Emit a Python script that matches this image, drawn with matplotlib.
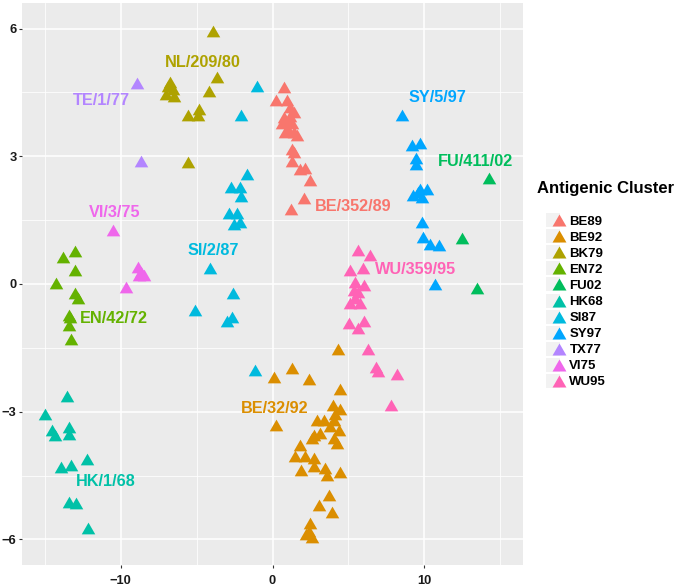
#!/usr/bin/env python3
"""
Antigenic map of H3N2 clusters, ggplot-like scatter with triangles
"""

import numpy as np
import matplotlib
matplotlib.use('Agg')
import matplotlib.pyplot as plt
from matplotlib.lines import Line2D
from matplotlib.legend_handler import HandlerTuple

plt.rcParams['font.family'] = ['Liberation Sans', 'DejaVu Sans']

clusters = ['BE89', 'BE92', 'BK79', 'EN72', 'FU02', 'HK68',
            'SI87', 'SY97', 'TX77', 'VI75', 'WU95']
colors = ['#F8766D', '#DB8E00', '#AEA200', '#64B200', '#00BD5C', '#00C1A7',
          '#00BADE', '#00A6FF', '#B385FF', '#EF67EB', '#FF63B6']

# points per cluster, (x, y) in map units
be89 = [(0.74, 4.62), (0.24, 4.31), (0.96, 4.33), (1.18, 4.16), (1.40, 4.04),
        (0.74, 3.92), (1.07, 3.84), (0.64, 3.77), (1.29, 3.77), (0.85, 3.57),
        (1.40, 3.57), (1.62, 3.49), (1.29, 3.18), (1.40, 3.10), (1.29, 2.89),
        (1.84, 2.71), (2.17, 2.73), (2.49, 2.44), (2.06, 2.01), (1.25, 1.75),
        (1.00, 3.65), (1.15, 3.95)]
be92 = [(4.31, -1.53), (1.29, -1.98), (0.09, -2.19), (2.43, -2.22), (4.42, -2.47),
        (0.24, -3.32), (3.98, -2.84), (4.42, -2.93), (2.93, -3.19), (3.37, -3.19),
        (4.02, -3.19), (3.81, -3.34), (4.35, -3.42), (2.71, -3.54), (3.15, -3.50),
        (4.02, -3.62), (4.24, -3.73), (2.60, -3.62), (1.84, -3.77), (1.51, -4.05),
        (2.17, -4.05), (2.71, -4.08), (2.71, -4.28), (3.48, -4.32), (3.59, -4.48),
        (1.88, -4.38), (4.42, -4.41), (3.69, -4.96), (3.04, -5.20), (3.92, -5.35),
        (2.45, -5.61), (2.23, -5.88), (2.60, -5.95), (2.38, -5.80), (4.10, -3.05)]
bk79 = [(-3.89, 5.95), (-3.67, 4.87), (-6.74, 4.74), (-6.58, 4.59), (-7.02, 4.47),
        (-6.48, 4.41), (-4.18, 4.53), (-5.56, 3.98), (-4.84, 4.12), (-4.94, 3.96),
        (-5.56, 2.87), (-6.90, 4.65)]
en72 = [(-13.80, 0.64), (-12.99, 0.78), (-12.99, 0.34), (-14.28, 0.02), (-13.04, -0.20),
        (-12.81, -0.34), (-13.41, -0.73), (-13.36, -0.78), (-13.41, -0.96), (-13.25, -1.30)]
fu02 = [(14.26, 2.50), (12.45, 1.09), (13.47, -0.10)]
hk68 = [(-13.54, -2.62), (-14.96, -3.05), (-14.50, -3.42), (-14.35, -3.55), (-13.43, -3.36),
        (-13.41, -3.52), (-13.95, -4.30), (-13.25, -4.26), (-12.22, -4.12), (-13.41, -5.13),
        (-12.93, -5.14), (-12.12, -5.73)]
si87 = [(-1.71, 2.58), (-2.71, 2.27), (-2.15, 2.27), (-2.05, 2.06), (-2.87, 1.66),
        (-2.32, 1.67), (-2.15, 1.46), (-2.54, 1.42), (-4.11, 0.37), (-2.58, -0.22),
        (-5.12, -0.61), (-2.64, -0.77), (-3.02, -0.88), (-2.05, 3.96), (-1.05, 4.66),
        (-1.18, -2.03)]
sy97 = [(8.51, 3.96), (9.17, 3.26), (9.71, 3.31), (9.45, 2.95), (9.45, 2.83),
        (9.27, 2.09), (9.60, 2.16), (9.82, 2.05), (10.15, 2.24), (9.71, 2.24),
        (9.82, 1.46), (9.93, 1.11), (10.37, 0.94), (10.98, 0.91), (10.70, -0.01)]
tx77 = [(-8.92, 4.72), (-8.66, 2.89)]
vi75 = [(-10.52, 1.27), (-8.88, 0.41), (-8.66, 0.29), (-8.45, 0.21), (-8.77, 0.21),
        (-9.65, -0.06)]
wu95 = [(5.66, 0.80), (6.39, 0.68), (5.12, 0.33), (5.95, 0.37), (5.45, 0.05),
        (6.00, -0.02), (5.34, -0.14), (5.66, -0.18), (5.12, -0.45), (5.77, -0.45),
        (5.45, -0.34), (5.07, -0.92), (5.66, -1.04), (6.00, -0.87), (6.28, -1.52),
        (6.82, -1.94), (6.98, -2.05), (8.18, -2.12), (7.79, -2.84)]

points = [be89, be92, bk79, en72, fu02, hk68, si87, sy97, tx77, vi75, wu95]

# strain labels: (text, x, y, cluster)
label_text = ['NL/209/80', 'TE/1/77', 'VI/3/75', 'SI/2/87', 'EN/42/72', 'HK/1/68',
              'BE/32/92', 'BE/352/89', 'SY/5/97', 'FU/411/02', 'WU/359/95']
label_x = [-4.61, -11.29, -10.41, -3.92, -10.48, -11.0, 0.13, 5.34, 10.85, 13.39, 9.43]
label_y = [5.21, 4.31, 1.68, 0.78, -0.82, -4.63, -2.93, 1.83, 4.38, 2.87, 0.33]
label_cluster = ['BK79', 'TX77', 'VI75', 'SI87', 'EN72', 'HK68',
                 'BE92', 'BE89', 'SY97', 'FU02', 'WU95']

# equilateral triangle marker
tri = [(-1, -0.866), (1, -0.866), (0, 0.866), (-1, -0.866)]

fig = plt.figure(figsize=(6.75, 5.88), dpi=100)
ax = fig.add_axes([22/675, 1 - 565/588, (523 - 22)/675, (565 - 3)/588])
ax.set_facecolor('#EBEBEB')

for name, col, pts in zip(clusters, colors, points):
    arr = np.array(pts)
    ax.scatter(arr[:, 0], arr[:, 1], marker=tri, s=95, color=col,
               linewidths=0, zorder=3)

for txt, lx, ly, cl in zip(label_text, label_x, label_y, label_cluster):
    ax.text(lx, ly, txt, color=colors[clusters.index(cl)], fontsize=11.7,
            fontweight='bold', ha='center', va='center', zorder=4)

ax.set_xlim(-16.5, 16.5)
ax.set_ylim(-6.6, 6.6)
ax.set_xticks([-10, 0, 10])
ax.set_yticks([-6, -3, 0, 3, 6])
ax.set_xticks([-15, -5, 5, 15], minor=True)
ax.set_yticks([-4.5, -1.5, 1.5, 4.5], minor=True)
ax.grid(which='major', color='white', linewidth=1.1, zorder=0)
ax.grid(which='minor', color='white', linewidth=0.55, zorder=0)
ax.set_axisbelow(True)
for sp in ax.spines.values():
    sp.set_visible(False)
ax.tick_params(which='major', length=2.5, width=0.8, color='#333333',
               labelsize=9.3, pad=2)
ax.tick_params(axis='x', which='major', pad=5)
ax.tick_params(axis='y', which='major', pad=1.5)
ax.tick_params(which='minor', length=0)
for lab in ax.get_xticklabels() + ax.get_yticklabels():
    lab.set_fontweight('bold')
    lab.set_color('#1a1a1a')

# legend: title as its own text, keys on grey squares like ggplot
fig.text(537/675, 1 - 189/588, 'Antigenic Cluster', fontsize=12,
         fontweight='bold', ha='left', va='center')
handles = []
for c in colors:
    key_bg = Line2D([], [], linestyle='none', marker='s', markersize=10.5,
                    markerfacecolor='#F2F2F2', markeredgewidth=0)
    key_tri = Line2D([], [], linestyle='none', marker=tri, markersize=10,
                     markerfacecolor=c, markeredgewidth=0)
    handles.append((key_bg, key_tri))
leg = fig.legend(handles, clusters, loc='upper left',
                 bbox_to_anchor=(543/675, 1 - 209/588),
                 handler_map={tuple: HandlerTuple(ndivide=None, pad=0)},
                 frameon=False, labelspacing=0.29,
                 handlelength=1.0, handletextpad=0.5, borderpad=0,
                 prop={'weight': 'bold', 'size': 9.5})

fig.savefig('out.png', dpi=100)
